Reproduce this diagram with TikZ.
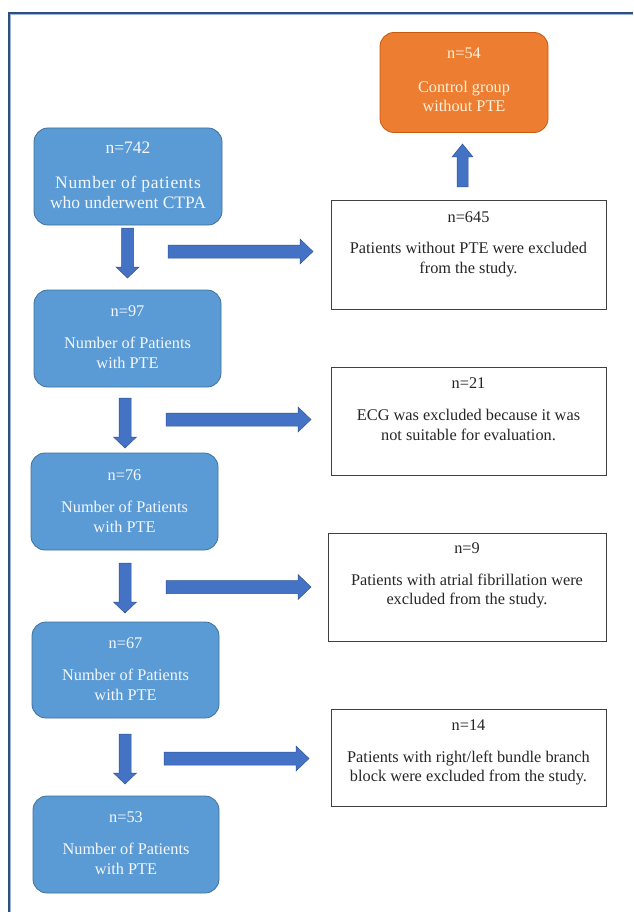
\documentclass[tikz,border=0pt]{standalone}
\usepackage{fontspec}
\setmainfont{Liberation Serif}
\definecolor{boxblue}{HTML}{5B9BD5}
\definecolor{boxblueedge}{HTML}{41719C}
\definecolor{arrowblue}{HTML}{4472C4}
\definecolor{arrowedge}{HTML}{2F5597}
\definecolor{orng}{HTML}{ED7D31}
\definecolor{orngedge}{HTML}{C55A11}
\definecolor{framedark}{HTML}{2F4E7E}
\definecolor{framelight}{HTML}{9DB6DC}
\definecolor{cream}{HTML}{FFF2DC}
\definecolor{txtwhite}{HTML}{F4F7FB}
\tikzset{
  bluebox/.style={draw=boxblueedge, fill=boxblue, line width=0.8pt, rounded corners=14pt, inner sep=0pt},
  orangebox/.style={draw=orngedge, fill=orng, line width=0.8pt, rounded corners=14pt, inner sep=0pt},
  whitebox/.style={draw=black!75, fill=white, line width=0.9pt, inner sep=0pt},
  txt/.style={font=\fontsize{16.3}{19.5}\selectfont, align=center, inner sep=0pt},
  wtxt/.style={txt, text=txtwhite},
  otxt/.style={txt, text=cream},
  ktxt/.style={txt, text=black!85},
  blockarrow/.style={fill=arrowblue, draw=arrowedge, line width=0.5pt},
}
\newcommand{\downblk}[2]{\draw[blockarrow] (#1-6,#2) -- (#1+6,#2) -- (#1+6,#2+39) -- (#1+11.5,#2+39) -- (#1,#2+50) -- (#1-11.5,#2+39) -- (#1-6,#2+39) -- cycle;}
\newcommand{\rightblk}[2]{\draw[blockarrow] (#1,#2-6.5) -- (#1+132,#2-6.5) -- (#1+132,#2-12.5) -- (#1+145,#2) -- (#1+132,#2+12.5) -- (#1+132,#2+6.5) -- (#1,#2+6.5) -- cycle;}
\begin{document}
\begin{tikzpicture}[x=1pt,y=-1pt]
\useasboundingbox[fill=white] (0,0) rectangle (633,912);
% frame
\draw[framelight, line width=1.2pt] (10.8,912) -- (10.8,14.8) -- (633,14.8);
\draw[framedark, line width=2pt] (9,912) -- (9,13) -- (633,13);

% left column blue boxes
\node[bluebox, minimum width=188pt, minimum height=97pt] (b1) at (128,176.5) {};
\node[wtxt, font=\fontsize{17.5}{20}\selectfont] (b1n) at (128,148) {n=742};
\node[wtxt, font=\fontsize{17.5}{20}\selectfont] (b1d) at (128,192) {\addfontfeature{LetterSpace=4}Number of patients\\who underwent CTPA};

\node[bluebox, minimum width=187pt, minimum height=97pt] (b2) at (127.5,338.5) {};
\node[wtxt] (b2n) at (127.5,311) {n=97};
\node[wtxt] (b2d) at (127.5,353) {Number of Patients\\with PTE};

\node[bluebox, minimum width=187pt, minimum height=97pt] (b3) at (124.5,501.5) {};
\node[wtxt] (b3n) at (124.5,475) {n=76};
\node[wtxt] (b3d) at (124.5,517) {Number of Patients\\with PTE};

\node[bluebox, minimum width=187pt, minimum height=96pt] (b4) at (125.5,670) {};
\node[wtxt] (b4n) at (125.5,643) {n=67};
\node[wtxt] (b4d) at (125.5,685) {Number of Patients\\with PTE};

\node[bluebox, minimum width=186pt, minimum height=97pt] (b5) at (126,844.5) {};
\node[wtxt] (b5n) at (126,817) {n=53};
\node[wtxt] (b5d) at (126,859) {Number of Patients\\with PTE};

% orange box
\node[orangebox, minimum width=168pt, minimum height=100pt] (o1) at (464,82.5) {};
\node[otxt] (o1n) at (464,53) {n=54};
\node[otxt] (o1d) at (464,96.5) {Control group\\without PTE};

% white boxes
\node[whitebox, minimum width=275pt, minimum height=109pt] (w1) at (468.5,254.5) {};
\node[ktxt] (w1n) at (468.5,217) {n=645};
\node[ktxt] (w1d) at (468.5,259.5) {Patients without PTE were excluded\\from the study.};

\node[whitebox, minimum width=275pt, minimum height=108pt] (w2) at (468.5,421) {};
\node[ktxt] (w2n) at (468.5,383) {n=21};
\node[ktxt] (w2d) at (468.5,425) {ECG was excluded because it was\\not suitable for evaluation.};

\node[whitebox, minimum width=278pt, minimum height=108pt] (w3) at (467,587) {};
\node[ktxt] (w3n) at (467,548) {n=9};
\node[ktxt] (w3d) at (467,591) {Patients with atrial fibrillation were\\excluded from the study.};

\node[whitebox, minimum width=275pt, minimum height=97pt] (w4) at (468.5,757.5) {};
\node[ktxt] (w4n) at (468.5,725) {n=14};
\node[ktxt] (w4d) at (468.5,768) {Patients with right/left bundle branch\\block were excluded from the study.};

% block arrows
\downblk{127.5}{228}
\downblk{125}{398}
\downblk{125}{563}
\downblk{125}{734}
\rightblk{168}{251.5}
\rightblk{166}{419.5}
\rightblk{166}{587}
\rightblk{164}{758.5}
% up arrow to control group
\draw[blockarrow] (457,187) -- (468,187) -- (468,157) -- (473,157) -- (462.5,144) -- (452,157) -- (457,157) -- cycle;
\end{tikzpicture}
\end{document}
